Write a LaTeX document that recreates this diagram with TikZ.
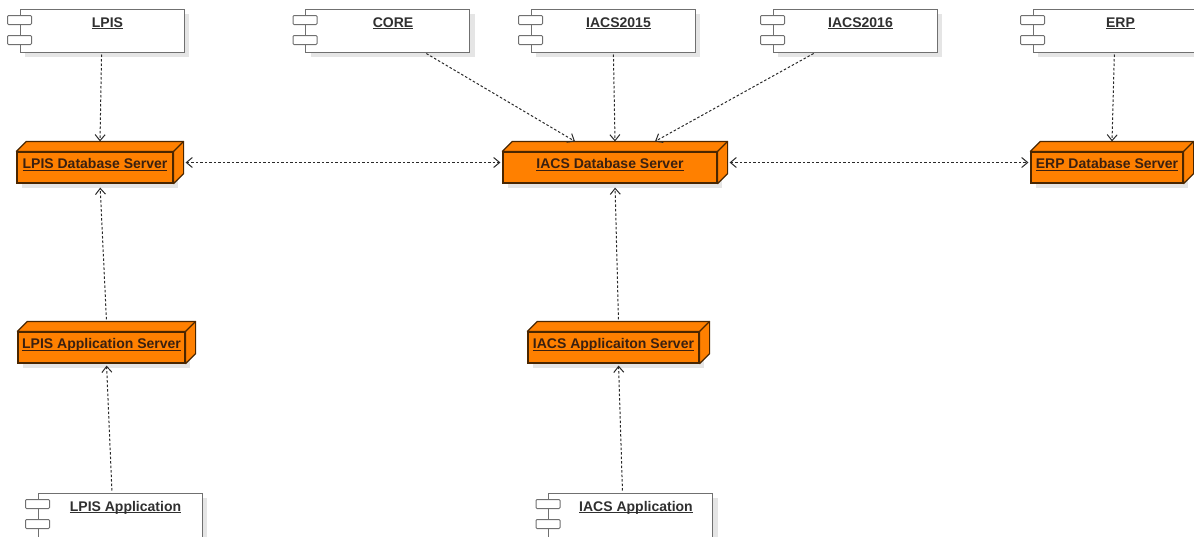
\documentclass[tikz,border=0pt]{standalone}
\usepackage{fontspec}
\setmainfont{Liberation Sans}
\usetikzlibrary{arrows.meta,calc,shadows}

\definecolor{srvorange}{HTML}{FF8000}
\definecolor{srvline}{HTML}{4A2600}
\definecolor{srvtext}{HTML}{3A2010}
\definecolor{compline}{HTML}{707070}
\definecolor{comptext}{HTML}{303030}
\definecolor{deparrow}{HTML}{2A2A2A}

% underlined label
\newcommand{\ulbl}[1]{\setbox0\hbox{#1}\rlap{\rule[-2.2pt]{\wd0}{1pt}}\box0}

% top and side faces of a server box
\newcommand{\srvdepth}[1]{
  \filldraw[srvface] (#1.north west) -- ($(#1.north west)+(10,-10)$) -- ($(#1.north east)+(10,-10)$)
    -- ($(#1.south east)+(10,-10)$) -- (#1.south east) -- (#1.north east) -- cycle;
  \draw[srvface] (#1.north east) -- ($(#1.north east)+(10,-10)$);
  \coordinate (#1-top) at ($(#1.north)+(5,-10)$);
  \coordinate (#1-bot) at ($(#1.south)+(5,0)$);
  \coordinate (#1-side) at ($(#1.east)+(10,-5)$);
}

% component icon on the left edge
\newcommand{\compicon}[1]{
  \draw[compicn] ($(#1.north west)+(-12,7)$) rectangle ++(24,9);
  \draw[compicn] ($(#1.north west)+(-12,27)$) rectangle ++(24,9);
}

\begin{document}
\begin{tikzpicture}[x=1pt, y=-1pt,
  comp/.style={draw=compline, fill=white, line width=1pt, minimum width=164pt,
    inner xsep=0pt, inner ysep=8pt, text height=10pt, text depth=17pt, text=comptext,
    font=\fontsize{14}{16}\selectfont\bfseries,
    drop shadow={shadow xshift=5pt, shadow yshift=-5pt, fill=black!10, opacity=1}},
  compicn/.style={draw=compline, fill=white, line width=1pt, rounded corners=1pt},
  srv/.style={draw=srvline, fill=srvorange, line width=1.2pt, minimum height=31pt,
    inner xsep=3pt, inner ysep=0pt, text height=10pt, text depth=8pt, text=srvtext,
    font=\fontsize{14}{16}\selectfont\bfseries,
    drop shadow={shadow xshift=5pt, shadow yshift=-5pt, fill=black!10, opacity=1}},
  srvface/.style={draw=srvline, fill=srvorange, line width=1.2pt, line join=round},
  dep/.style={draw=deparrow, line width=1pt, dash pattern=on 2.5pt off 2pt,
    shorten <=2pt, -{Straight Barb[length=6pt,width=10pt]}},
  depboth/.style={dep, shorten >=2pt,
    {Straight Barb[length=6pt,width=10pt]}-{Straight Barb[length=6pt,width=10pt]}}
]
  \clip (0,0) rectangle (1194,536);

  % components
  \node[comp] (lpis) at (102,30.5) {\hspace{11pt}\ulbl{LPIS}};
  \node[comp] (core) at (387.5,30.5) {\hspace{11pt}\ulbl{CORE}};
  \node[comp] (iacs15) at (613,30.5) {\hspace{11pt}\ulbl{IACS2015}};
  \node[comp] (iacs16) at (855,30.5) {\hspace{11pt}\ulbl{IACS2016}};
  \node[comp] (erp) at (1115,30.5) {\hspace{11pt}\ulbl{ERP}};
  \node[comp, text depth=20pt] (lpisapp) at (120,516) {\hspace{11pt}\ulbl{LPIS Application}};
  \node[comp, text depth=20pt] (iacsapp) at (630.5,516) {\hspace{11pt}\ulbl{IACS Application}};
  \foreach \c in {lpis,core,iacs15,iacs16,erp,lpisapp,iacsapp}
    \compicon{\c};

  % servers
  \node[srv, minimum width=156pt] (lpisdb) at (95,167.5) {\ulbl{LPIS Database Server}};
  \node[srv, minimum width=214pt] (iacsdb) at (610,167.5) {\ulbl{IACS Database Server}};
  \node[srv, minimum width=152pt] (erpdb) at (1107,167.5) {\ulbl{ERP Database Server}};
  \node[srv, minimum width=167pt] (lpisas) at (101.5,347.5) {\ulbl{LPIS Application Server}};
  \node[srv, minimum width=171pt] (iacsas) at (613.5,347.5) {\ulbl{IACS Applicaiton Server}};
  \foreach \s in {lpisdb,iacsdb,erpdb,lpisas,iacsas}
    \srvdepth{\s};

  % dependencies
  \draw[dep] (lpis) -- (lpisdb-top);
  \draw[dep] (core) -- ([xshift=-40pt]iacsdb-top);
  \draw[dep] (iacs15) -- (iacsdb-top);
  \draw[dep] (iacs16) -- ([xshift=40pt]iacsdb-top);
  \draw[dep] (erp) -- (erpdb-top);
  \draw[depboth] (lpisdb-side) -- (lpisdb-side -| iacsdb.west);
  \draw[depboth] (iacsdb-side) -- (iacsdb-side -| erpdb.west);
  \draw[dep, shorten >=4pt] (lpisas-top) -- (lpisdb-bot);
  \draw[dep, shorten >=4pt] (iacsas-top) -- (iacsdb-bot);
  \draw[dep, shorten >=2pt] ([xshift=-8pt]lpisapp.north) -- (lpisas-bot);
  \draw[dep, shorten >=2pt] ([xshift=-8pt]iacsapp.north) -- (iacsas-bot);

\end{tikzpicture}
\end{document}
